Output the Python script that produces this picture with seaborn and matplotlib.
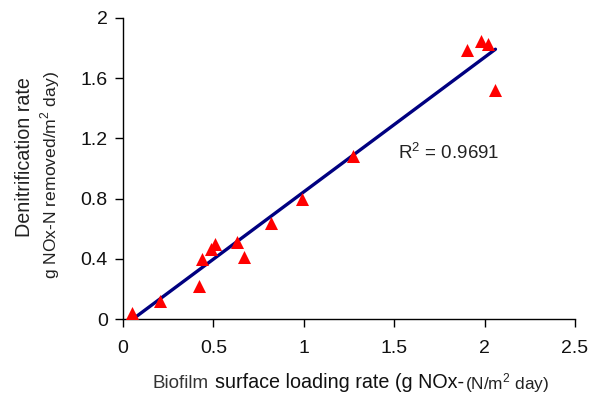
import matplotlib
matplotlib.use("Agg")
import matplotlib.pyplot as plt
import seaborn as sns
import numpy as np
import pandas as pd

# Biofilm surface loading rate vs denitrification rate
loading_rate = [0.048, 0.205, 0.42, 0.435, 0.485, 0.51, 0.632, 0.67, 0.82,
                0.99, 1.27, 1.90, 1.98, 2.02, 2.06]
denit_rate = [0.04, 0.12, 0.22, 0.40, 0.465, 0.50, 0.51, 0.41, 0.64,
              0.80, 1.08, 1.79, 1.85, 1.83, 1.52]
x_ticks = [0, 0.5, 1, 1.5, 2, 2.5]
x_tick_labels = ["0", "0.5", "1", "1.5", "2", "2.5"]
y_ticks = [0, 0.4, 0.8, 1.2, 1.6, 2.0]
y_tick_labels = ["0", "0.4", "0.8", "1.2", "1.6", "2"]
r_squared = 0.9691

df = pd.DataFrame({"loading": loading_rate, "denit": denit_rate})

sns.set_style("ticks")
plt.rcParams["font.family"] = ["Liberation Sans", "DejaVu Sans"]
plt.rcParams["mathtext.fontset"] = "custom"
plt.rcParams["mathtext.rm"] = "Liberation Sans"

W, H = 597, 398
fig = plt.figure(figsize=(W / 100, H / 100), dpi=100)
ax = fig.add_axes([123 / W, 1 - 319 / H, (575 - 123) / W, (319 - 18) / H])

sns.regplot(data=df, x="loading", y="denit", ax=ax, ci=None, marker="^",
            scatter_kws=dict(color="#ff0000", s=88, linewidths=0, alpha=1, zorder=3),
            line_kws=dict(color="#000080", lw=2.4, zorder=2))

ax.set_xlim(0, 2.5)
ax.set_ylim(0, 2)
ax.set_xticks(x_ticks)
ax.set_xticklabels(x_tick_labels)
ax.set_yticks(y_ticks)
ax.set_yticklabels(y_tick_labels)
ax.tick_params(axis="both", labelsize=14, length=6, width=1, color="black",
               labelcolor="#111111", direction="out", pad=5)
ax.tick_params(axis="x", pad=9)
for s in ["top", "right"]:
    ax.spines[s].set_visible(False)
for s in ["left", "bottom"]:
    ax.spines[s].set_color("black")
    ax.spines[s].set_linewidth(1)
ax.set_xlabel("")
ax.set_ylabel("")

ax.text(398 / W, 1 - 153 / H, "R$^{2}$ = " + f"{r_squared}", transform=fig.transFigure,
        fontsize=13.5, ha="left", va="center", color="#222222")

# Y axis title, two lines of different size
fig.text(25 / W, 1 - 157 / H, "Denitrification rate", rotation=90,
         fontsize=14.2, ha="center", va="center", color="#222222")
fig.text(50 / W, 1 - 175 / H, "g NOx-N removed/m$^{2}$ day)", rotation=90,
         fontsize=12.6, ha="center", va="center", color="#222222")

# X axis title, pieces of mixed size
ty = 1 - 383 / H
fig.text(153 / W, ty, "Biofilm", fontsize=13.5, ha="left", va="center", color="#333333")
fig.text(215 / W, ty, "surface loading rate (g NOx-", fontsize=14.2, ha="left",
         va="center", color="#111111")
fig.text(465 / W, ty, "(N/m$^{2}$ day)", fontsize=12.4, ha="left", va="center",
         color="#222222")

fig.savefig("out.png", dpi=100, facecolor="white")
